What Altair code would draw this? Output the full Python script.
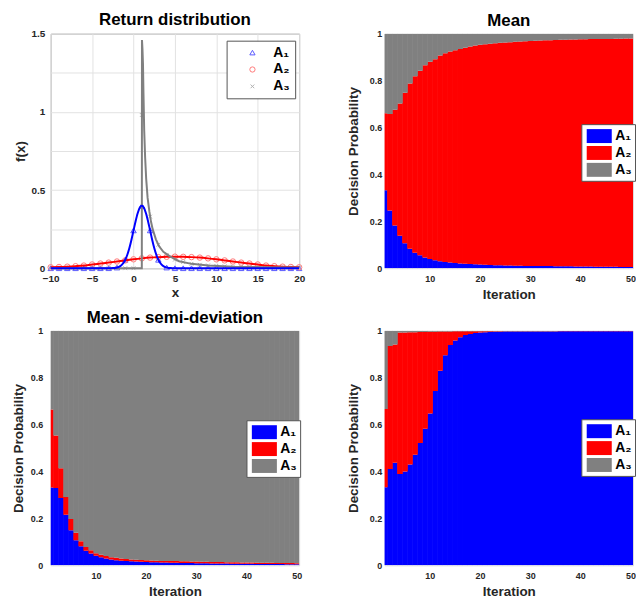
import altair as alt
import pandas as pd

FONT = "Liberation Sans"
SERIES = ["A₁", "A₂", "A₃"]

# ---------------- Return distribution ----------------
x_int = list(range(-10, 21))
a1_marks = [0, 0, 0, 0, 0, 0, 0, 0.0001, 0.0044, 0.054, 0.242, 0.399, 0.242, 0.054, 0.0044, 0.0001,
            0, 0, 0, 0, 0, 0, 0, 0, 0, 0, 0, 0, 0, 0, 0]
a2_marks = [0.006, 0.008, 0.010, 0.013, 0.017, 0.024, 0.030, 0.036, 0.043, 0.050, 0.057, 0.063, 0.068,
            0.071, 0.073, 0.074, 0.073, 0.071, 0.068, 0.063, 0.057, 0.050, 0.043, 0.036, 0.030, 0.024,
            0.017, 0.013, 0.010, 0.008, 0.006]
a3_marks = [0, 0, 0, 0, 0, 0, 0, 0, 0, 0, 0, 0.98, 0.33, 0.15, 0.085, 0.055, 0.040, 0.028, 0.022, 0.018,
            0.015, 0.012, 0.010, 0.009, 0.008, 0.007, 0.006, 0.005, 0.005, 0.004, 0.004]

blue_line_x = [-10, -3, -2.75, -2.5, -2.25, -2, -1.75, -1.5, -1.25, -1, -0.75, -0.5, -0.25, 0, 0.25, 0.5,
               0.75, 1, 1.25, 1.5, 1.75, 2, 2.25, 2.5, 2.75, 3, 3.25, 3.5, 3.75, 4, 4.25, 4.5, 4.75, 5, 20]
blue_line_y = [0, 0.0001, 0.0004, 0.0009, 0.0020, 0.0044, 0.0091, 0.0175, 0.0317, 0.0540, 0.0863, 0.1295,
               0.1826, 0.2420, 0.3011, 0.3521, 0.3867, 0.3989, 0.3867, 0.3521, 0.3011, 0.2420, 0.1826,
               0.1295, 0.0863, 0.0540, 0.0317, 0.0175, 0.0091, 0.0044, 0.0020, 0.0009, 0.0004, 0.0001, 0]
gray_line_x = [-10, 1.0, 1.02, 1.08, 1.14, 1.2, 1.29, 1.4, 1.53, 1.7, 1.92, 2.1, 2.31, 2.7, 3.09, 3.6,
               4.35, 5.5, 7, 9, 12, 16, 20]
gray_line_y = [0, 0, 1.46, 1.40, 1.31, 1.12, 0.88, 0.71, 0.57, 0.45, 0.36, 0.30, 0.25, 0.185, 0.14, 0.105,
               0.078, 0.045, 0.028, 0.017, 0.010, 0.006, 0.004]

# ---------------- Decision probabilities (iterations 1..50) ----------------
iterations = list(range(1, 51))

mean_a1 = [0.332, 0.246, 0.182, 0.139, 0.106, 0.083, 0.066, 0.055, 0.046, 0.039,
           0.034, 0.030, 0.027, 0.024, 0.022, 0.020, 0.019, 0.018, 0.017, 0.016,
           0.015, 0.014, 0.013, 0.013, 0.012, 0.012, 0.011, 0.011, 0.010, 0.010,
           0.010, 0.009, 0.009, 0.009, 0.008, 0.008, 0.008, 0.008, 0.007, 0.007,
           0.007, 0.007, 0.006, 0.006, 0.006, 0.006, 0.006, 0.005, 0.005, 0.005]
mean_a2 = [0.329, 0.412, 0.494, 0.563, 0.642, 0.705, 0.753, 0.787, 0.820, 0.841,
           0.857, 0.877, 0.890, 0.900, 0.907, 0.915, 0.921, 0.927, 0.933, 0.937,
           0.940, 0.943, 0.946, 0.948, 0.951, 0.952, 0.955, 0.956, 0.958, 0.959,
           0.960, 0.962, 0.963, 0.963, 0.965, 0.966, 0.966, 0.967, 0.968, 0.969,
           0.969, 0.970, 0.971, 0.972, 0.972, 0.972, 0.973, 0.974, 0.975, 0.975]
mean_a3 = [0.339, 0.342, 0.324, 0.298, 0.252, 0.212, 0.181, 0.158, 0.134, 0.120,
           0.109, 0.093, 0.083, 0.076, 0.071, 0.065, 0.060, 0.055, 0.050, 0.047,
           0.045, 0.043, 0.041, 0.039, 0.037, 0.036, 0.034, 0.033, 0.032, 0.031,
           0.030, 0.029, 0.028, 0.028, 0.027, 0.026, 0.026, 0.025, 0.025, 0.024,
           0.024, 0.023, 0.023, 0.022, 0.022, 0.022, 0.021, 0.021, 0.020, 0.020]

msd_a1 = [0.332, 0.330, 0.287, 0.216, 0.150, 0.107, 0.081, 0.062, 0.050, 0.041,
          0.034, 0.029, 0.025, 0.022, 0.020, 0.018, 0.017, 0.016, 0.015, 0.014,
          0.013, 0.013, 0.012, 0.012, 0.011, 0.011, 0.010, 0.010, 0.010, 0.009,
          0.009, 0.009, 0.008, 0.008, 0.008, 0.008, 0.007, 0.007, 0.007, 0.007,
          0.007, 0.006, 0.006, 0.006, 0.006, 0.006, 0.006, 0.005, 0.005, 0.005]
msd_a2 = [0.333, 0.224, 0.127, 0.075, 0.048, 0.032, 0.022, 0.016, 0.014, 0.011,
          0.011, 0.011, 0.010, 0.010, 0.009, 0.009, 0.008, 0.008, 0.008, 0.008,
          0.008, 0.007, 0.007, 0.007, 0.007, 0.007, 0.007, 0.007, 0.006, 0.007,
          0.006, 0.006, 0.006, 0.006, 0.006, 0.005, 0.006, 0.006, 0.005, 0.005,
          0.005, 0.005, 0.005, 0.005, 0.005, 0.004, 0.004, 0.005, 0.005, 0.004]
msd_a3 = [0.335, 0.446, 0.586, 0.709, 0.802, 0.861, 0.897, 0.922, 0.936, 0.948,
          0.955, 0.960, 0.965, 0.968, 0.971, 0.973, 0.975, 0.976, 0.977, 0.978,
          0.979, 0.980, 0.981, 0.981, 0.982, 0.982, 0.983, 0.983, 0.984, 0.984,
          0.985, 0.985, 0.986, 0.986, 0.986, 0.987, 0.987, 0.987, 0.988, 0.988,
          0.988, 0.989, 0.989, 0.989, 0.989, 0.990, 0.990, 0.990, 0.990, 0.991]

risk_a1 = [0.333, 0.411, 0.437, 0.390, 0.400, 0.430, 0.472, 0.522, 0.582, 0.648,
           0.743, 0.830, 0.896, 0.940, 0.959, 0.973, 0.982, 0.987, 0.991, 0.993,
           0.994, 0.995, 0.996, 0.996, 0.997, 0.997, 0.997, 0.997, 0.997, 0.997,
           0.997, 0.997, 0.997, 0.997, 0.997, 0.998, 0.998, 0.998, 0.998, 0.998,
           0.998, 0.998, 0.998, 0.998, 0.998, 0.998, 0.998, 0.998, 0.998, 0.998]
risk_a2 = [0.334, 0.524, 0.505, 0.603, 0.593, 0.564, 0.522, 0.473, 0.413, 0.348,
           0.253, 0.167, 0.101, 0.057, 0.039, 0.025, 0.016, 0.011, 0.007, 0.005,
           0.004, 0.003, 0.002, 0.002, 0.001, 0.001, 0.001, 0.001, 0.001, 0.001,
           0.001, 0.001, 0.001, 0.001, 0.001, 0.001, 0.001, 0.001, 0.001, 0.001,
           0.001, 0.001, 0.001, 0.001, 0.001, 0.001, 0.001, 0.001, 0.001, 0.001]
risk_a3 = [0.333, 0.065, 0.058, 0.007, 0.007, 0.006, 0.006, 0.005, 0.005, 0.004,
           0.004, 0.003, 0.003, 0.003, 0.002, 0.002, 0.002, 0.002, 0.002, 0.002,
           0.002, 0.002, 0.002, 0.002, 0.002, 0.002, 0.002, 0.002, 0.002, 0.002,
           0.002, 0.002, 0.002, 0.002, 0.002, 0.001, 0.001, 0.001, 0.001, 0.001,
           0.001, 0.001, 0.001, 0.001, 0.001, 0.001, 0.001, 0.001, 0.001, 0.001]

W, H = 250, 236
AX = dict(labelFont=FONT, labelFontWeight="bold", labelColor="#262626",
          titleFont=FONT, titleFontWeight="bold", titleFontSize=13.5, titleColor="#262626",
          labelFlush=False, labelOverlap=False)


def title(text):
    return alt.TitleParams(text=text, font=FONT, fontSize=17, fontWeight="bold",
                           color="black", offset=0)


# ---------- top-left: distributions ----------
rows = []
for s, vals in zip(SERIES, [a1_marks, a2_marks, a3_marks]):
    for xv, v in zip(x_int, vals):
        rows.append({"series": s, "x": xv, "y": v})
marks_df = pd.DataFrame(rows)

xsc = alt.Scale(domain=[-10, 20], nice=False, zero=False)
ysc = alt.Scale(domain=[0, 1.5], nice=False)
x_axis = alt.Axis(values=list(range(-10, 21, 5)), title="x", grid=True, gridColor="#e2e2e2",
                  ticks=False, domain=False, labelFontSize=10, labelPadding=5, titlePadding=2, **AX)
y_axis = alt.Axis(values=[0, 0.25, 0.5, 0.75, 1, 1.25, 1.5], title="f(x)", grid=True, gridColor="#e2e2e2",
                  labelExpr="datum.value % 0.5 == 0 ? format(datum.value, '~g') : ''",
                  ticks=False, domain=False, labelFontSize=10, labelPadding=6, titlePadding=3, **AX)


def line_layer(xs, ys, color, interp):
    df = pd.DataFrame({"x": xs, "y": ys, "k": list(range(len(xs)))})
    return alt.Chart(df).mark_line(color=color, strokeWidth=2, interpolate=interp).encode(
        x=alt.X("x:Q", scale=xsc, axis=x_axis),
        y=alt.Y("y:Q", scale=ysc, axis=y_axis),
        order="k:Q")


dist_legend = alt.Legend(title=None, orient="none", legendX=177, legendY=7, fillColor="white",
                         strokeColor="#555555", padding=5, symbolOffset=14, labelOffset=14,
                         rowPadding=3, labelFont=FONT, labelFontSize=14, labelFontWeight="bold",
                         labelColor="black", symbolSize=28, symbolStrokeWidth=1, cornerRadius=0,
                         symbolFillColor="white")

pts = alt.Chart(marks_df).mark_point(filled=False, fill="transparent", strokeWidth=1, size=30,
                                     opacity=1).encode(
    x=alt.X("x:Q", scale=xsc, axis=x_axis),
    y=alt.Y("y:Q", scale=ysc, axis=y_axis),
    color=alt.Color("series:N", scale=alt.Scale(domain=SERIES, range=["#5a5aff", "#ff7a7a", "#b0b0b0"]),
                    legend=dist_legend),
    shape=alt.Shape("series:N", scale=alt.Scale(domain=SERIES,
                                                range=["triangle-up", "circle", "M-0.7,-0.7L0.7,0.7M-0.7,0.7L0.7,-0.7"]),
                    legend=dist_legend),
)

red_line = line_layer(x_int, a2_marks, "#ff0000", "monotone")
gray_line = line_layer(gray_line_x, gray_line_y, "#808080", "linear")
blue_line = line_layer(blue_line_x, blue_line_y, "#0000ff", "monotone")

tl = alt.layer(pts, red_line, gray_line, blue_line).properties(
    width=W, height=H, title=title("Return distribution"),
    view=alt.ViewBackground(stroke="#8c8c8c", strokeWidth=1))


# ---------- stacked probability panels ----------
def stacked(a1, a2, a3, ttl, lx, ly, label_pad, title_pad):
    rows = []
    for order, (s, vals) in enumerate(zip(SERIES, [a1, a2, a3])):
        for it, v in zip(iterations, vals):
            rows.append({"it": it, "series": s, "p": v, "o": order})
    df = pd.DataFrame(rows)
    leg = alt.Legend(title=None, orient="none", legendX=lx, legendY=ly, fillColor="white",
                     strokeColor="#555555", padding=3, symbolOffset=6, labelOffset=7, rowPadding=0,
                     symbolType="M-1.4,-0.78H1.4V0.78H-1.4Z", symbolSize=324, symbolStrokeWidth=0,
                     symbolOpacity=1, labelFont=FONT, labelFontSize=14, labelFontWeight="bold",
                     labelColor="black", cornerRadius=0)
    cscale = alt.Scale(domain=SERIES, range=["#0000ff", "#ff0000", "#808080"])
    ch = alt.Chart(df).transform_window(
        cum="sum(p)", groupby=["it"], sort=[alt.SortField("o")], frame=[None, 0]
    ).transform_calculate(
        y0="datum.cum - datum.p", x0="datum.it - 0.5", x1="datum.it + 0.62"
    ).mark_rect(clip=True, opacity=1, fillOpacity=1, strokeWidth=0).encode(
        x=alt.X("x0:Q", scale=alt.Scale(domain=[1, 50.5], nice=False, zero=False),
                axis=alt.Axis(values=[10, 20, 30, 40, 50], title="Iteration", grid=False, ticks=False,
                              domain=False, labelFontSize=9, labelPadding=6, titlePadding=4, **AX)),
        x2="x1:Q",
        y=alt.Y("cum:Q", scale=alt.Scale(domain=[0, 1], nice=False),
                axis=alt.Axis(values=[0, 0.2, 0.4, 0.6, 0.8, 1], format="~g", title="Decision Probability",
                              grid=False, ticks=False, domain=False, labelFontSize=9,
                              labelPadding=label_pad, titlePadding=title_pad, **AX)),
        y2="y0:Q",
        color=alt.Color("series:N", scale=cscale, legend=leg),
    )
    props = dict(width=W, height=H)
    if ttl:
        props["title"] = title(ttl)
    return ch.properties(**props)


tr = stacked(mean_a1, mean_a2, mean_a3, "Mean", 198, 91, 3, 9)
bl = stacked(msd_a1, msd_a2, msd_a3, "Mean - semi-deviation", 197, 90, 8, 5)
br = stacked(risk_a1, risk_a2, risk_a3, None, 198, 89, 3, 9)

chart = alt.concat(tl, tr, bl, br, columns=2, spacing={"row": 63, "column": 86},
                   bounds="flush", align="all").resolve_scale(
    color="independent", shape="independent"
).resolve_legend(color="independent", shape="independent").properties(
    padding={"left": 2, "top": 0, "right": 0, "bottom": 0}
).configure_view(stroke=None).configure(background="white")

chart.save("out.html", embed_options={"renderer": "svg", "actions": False})
